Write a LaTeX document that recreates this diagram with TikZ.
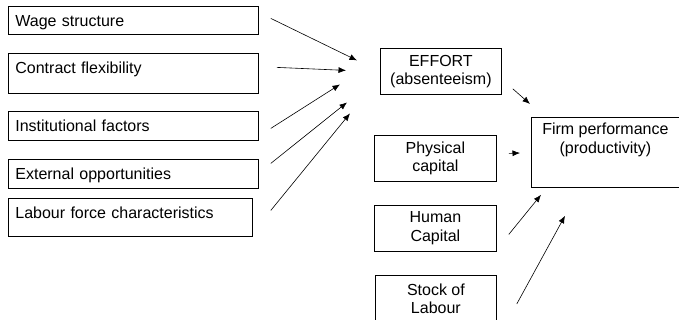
\documentclass[tikz,border=0pt]{standalone}
\usepackage{fontspec}
\setmainfont{Liberation Sans}
\usetikzlibrary{arrows.meta}

\begin{document}
\begin{tikzpicture}[x=1pt,y=-1pt,
    factor/.style={draw,line width=0.8pt,anchor=north west,inner xsep=7pt,inner ysep=0pt,
      text width=236pt,text height=20pt,font=\fontsize{16}{18.5}\selectfont},
    box/.style={draw,line width=0.8pt,anchor=north west,inner sep=0pt,minimum width=121pt,
      minimum height=46pt,align=center,font=\fontsize{16}{18.5}\selectfont},
    arr/.style={-{Latex[length=7.5pt,width=6pt]},line width=0.6pt}]
    \clip (0,0) rectangle (679,320);
    % factors on the left
    \node[factor,text depth=8pt]  (wage)     at (8,6)   {Wage structure};
    \node[factor,text depth=20pt] (contract) at (8,53)  {Contract flexibility};
    \node[factor,text depth=9pt]  (inst)     at (8,111) {Institutional factors};
    \node[factor,text depth=9pt]  (ext)      at (8,159) {External opportunities};
    \node[factor,text depth=18pt,text width=230pt] (labour) at (8,198) {Labour force characteristics};
    % inputs in the middle
    \node[box] (effort) at (380,48)  {EFFORT\\(absenteeism)};
    \node[box,minimum width=122pt] (phys)  at (374,135) {Physical\\capital};
    \node[box,minimum width=122pt] (human) at (374,205) {Human\\Capital};
    \node[box,minimum height=47pt] (stock) at (375,275) {Stock of\\Labour};
    % output
    \node[box,minimum width=160pt,minimum height=70pt,
      label={[anchor=north,align=center,inner sep=0pt,xshift=-6pt,yshift=-6pt,font=\fontsize{16}{18.5}\selectfont]north:Firm performance\\(productivity)}]
      (firm) at (531,117) {};
    % arrows into effort
    \draw[arr] ([xshift=12pt,yshift=2pt]wage.east)       -- ([xshift=-23pt,yshift=11pt]effort.west);
    \draw[arr] ([xshift=18pt,yshift=6pt]contract.east)   -- ([xshift=-34pt,yshift=1pt]effort.west);
    \draw[arr] ([xshift=12pt,yshift=-2.5pt]inst.east)    -- ([xshift=-40pt,yshift=-13pt]effort.west);
    \draw[arr] ([xshift=12pt,yshift=10.5pt]ext.east)     -- ([xshift=-33pt,yshift=-31pt]effort.west);
    \draw[arr] ([xshift=18pt,yshift=7pt]labour.east)     -- ([xshift=-30pt,yshift=-42pt]effort.west);
    % arrows into firm performance
    \draw[arr] ([xshift=11pt,yshift=6pt]effort.south east) -- ([xshift=-1pt,yshift=13pt]firm.north west);
    \draw[arr] ([xshift=12pt,yshift=5pt]phys.east)         -- ([xshift=-11pt,yshift=-36pt]firm.north west);
    \draw[arr] ([xshift=12pt,yshift=-6pt]human.east)       -- ([xshift=10pt,yshift=-7pt]firm.south west);
    \draw[arr] ([xshift=20pt,yshift=-5pt]stock.east)       -- ([xshift=34pt,yshift=-28pt]firm.south west);
\end{tikzpicture}
\end{document}
